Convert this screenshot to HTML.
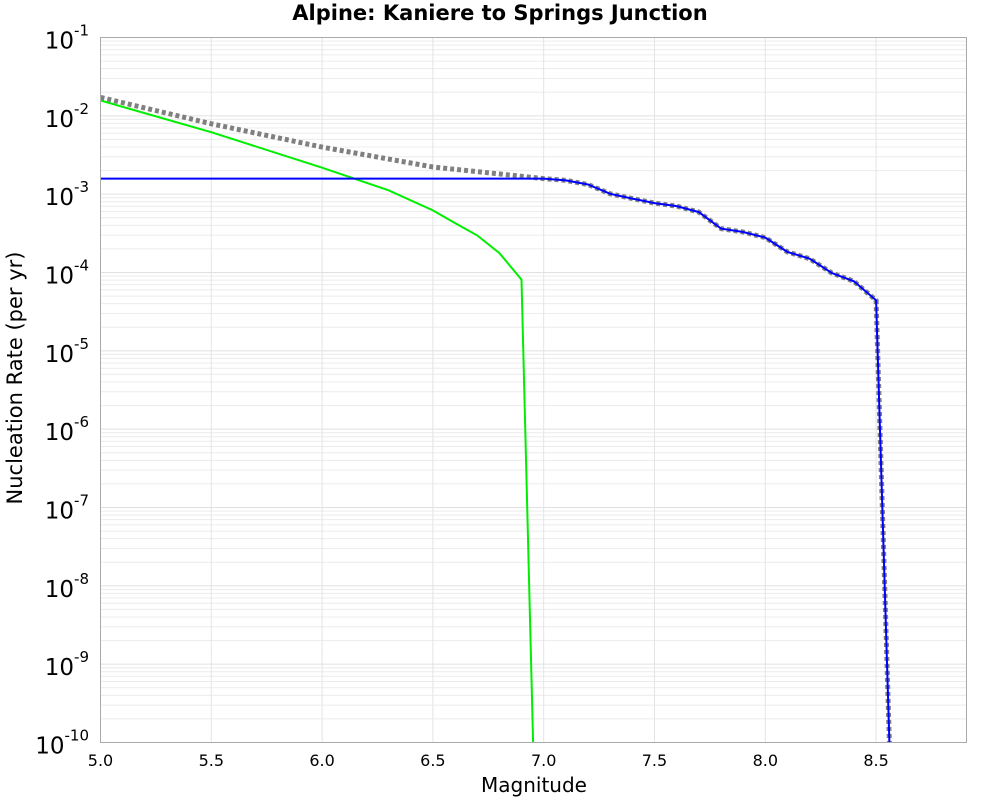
<!DOCTYPE html>
<html><head><meta charset="utf-8"><style>
body{margin:0;background:#fff;font-family:"Liberation Sans","DejaVu Sans",sans-serif}
</style></head><body>
<svg id="chart" width="1000" height="800" xmlns="http://www.w3.org/2000/svg" font-family="DejaVu Sans, Liberation Sans, sans-serif">
<text x="500" y="20" text-anchor="middle" font-size="21" font-weight="bold">Alpine: Kaniere to Springs Junction</text>
<g id="grid"></g>
<g id="series"></g>
<rect x="100.5" y="37.5" width="866" height="705" fill="none" stroke="#aaa"/>
<g id="axes"></g>
<text x="534" y="792" text-anchor="middle" font-size="20">Magnitude</text>
<text transform="translate(22,378) rotate(-90)" text-anchor="middle" font-size="21">Nucleation Rate (per yr)</text>
</svg>
<script>
const xTicks=[5.0,5.5,6.0,6.5,7.0,7.5,8.0,8.5];
const yExps=[-1,-2,-3,-4,-5,-6,-7,-8,-9,-10];
const greenMags=[5.0,5.5,6.0,6.3,6.5,6.6,6.7,6.8,6.9,6.952];
const greenRates=[0.0157,6.19e-3,2.18e-3,1.12e-3,6.21e-4,4.27e-4,2.98e-4,1.77e-4,8.11e-5,1e-10];
const blueMags=[5.0,7.0,7.1,7.2,7.3,7.4,7.5,7.6,7.7,7.8,7.9,8.0,8.1,8.2,8.3,8.4,8.5,8.56];
const blueRates=[1.58e-3,1.58e-3,1.50e-3,1.33e-3,1.01e-3,8.77e-4,7.70e-4,7.05e-4,5.91e-4,3.63e-4,3.29e-4,2.79e-4,1.83e-4,1.50e-4,9.85e-5,7.73e-5,4.42e-5,1e-10];
const grayMags=[5.0,5.5,6.0,6.5,7.0,7.1,7.2,7.3,7.4,7.5,7.6,7.7,7.8,7.9,8.0,8.1,8.2,8.3,8.4,8.5,8.56];
const grayRates=[0.0172,7.92e-3,3.99e-3,2.22e-3,1.58e-3,1.50e-3,1.33e-3,1.01e-3,8.77e-4,7.70e-4,7.05e-4,5.91e-4,3.63e-4,3.29e-4,2.79e-4,1.83e-4,1.50e-4,9.85e-5,7.73e-5,4.42e-5,1e-10];
const NS="http://www.w3.org/2000/svg";
const L=100.5,R=966.5,T=37.5,B=742.5,XMIN=5.0,XMAX=8.908;
function xs(v){return L+(v-XMIN)/(XMAX-XMIN)*(R-L);}
function ys(v){return T+(-1-Math.log10(v))/9*(B-T);}
function mk(tag,attrs,parent){const e=document.createElementNS(NS,tag);for(const k in attrs)e.setAttribute(k,attrs[k]);parent.appendChild(e);return e;}
const grid=document.getElementById('grid'),axes=document.getElementById('axes'),ser=document.getElementById('series');
for(let e=-10;e<-1;e++){for(let m=1;m<10;m++){const v=m*Math.pow(10,e);const y=ys(v);
const ln=mk('line',{x1:L,x2:R,y1:y,y2:y,stroke:m==1?'#e0e0e0':'#ececec','stroke-width':1},grid);

}}
for(const t of xTicks){const x=xs(t);
const ln=mk('line',{x1:x,x2:x,y1:T,y2:B,stroke:'#e4e4e4','stroke-width':1},grid);


const tx=mk('text',{x:x,y:766,'text-anchor':'middle','font-size':16},axes);tx.textContent=t.toFixed(1);

}
for(const e of yExps){const y=ys(Math.pow(10,e));
const tx=mk('text',{x:89,y:y+11,'text-anchor':'end','font-size':23},axes);


tx.textContent='10';const s=mk('tspan',{dy:-13,'font-size':15},tx);s.textContent=String(e);}
function path(ms,rs){return ms.map((m,i)=>(i?'L':'M')+xs(m).toFixed(1)+','+ys(rs[i]).toFixed(1)).join('');}
const clip=mk('clipPath',{id:'pc'},mk('defs',{},ser));mk('rect',{x:L,y:T,width:R-L,height:B-T},clip);
const g=mk('g',{'clip-path':'url(#pc)'},ser);
const pg=mk('path',{d:path(grayMags,grayRates),fill:'none',stroke:'#808080','stroke-width':5,'stroke-dasharray':'4,3'},g);


const pgr=mk('path',{d:path(greenMags,greenRates),fill:'none',stroke:'#00ee00','stroke-width':2},g);


const pb=mk('path',{d:path(blueMags,blueRates),fill:'none',stroke:'#0000ff','stroke-width':2},g);


</script>
</body></html>
